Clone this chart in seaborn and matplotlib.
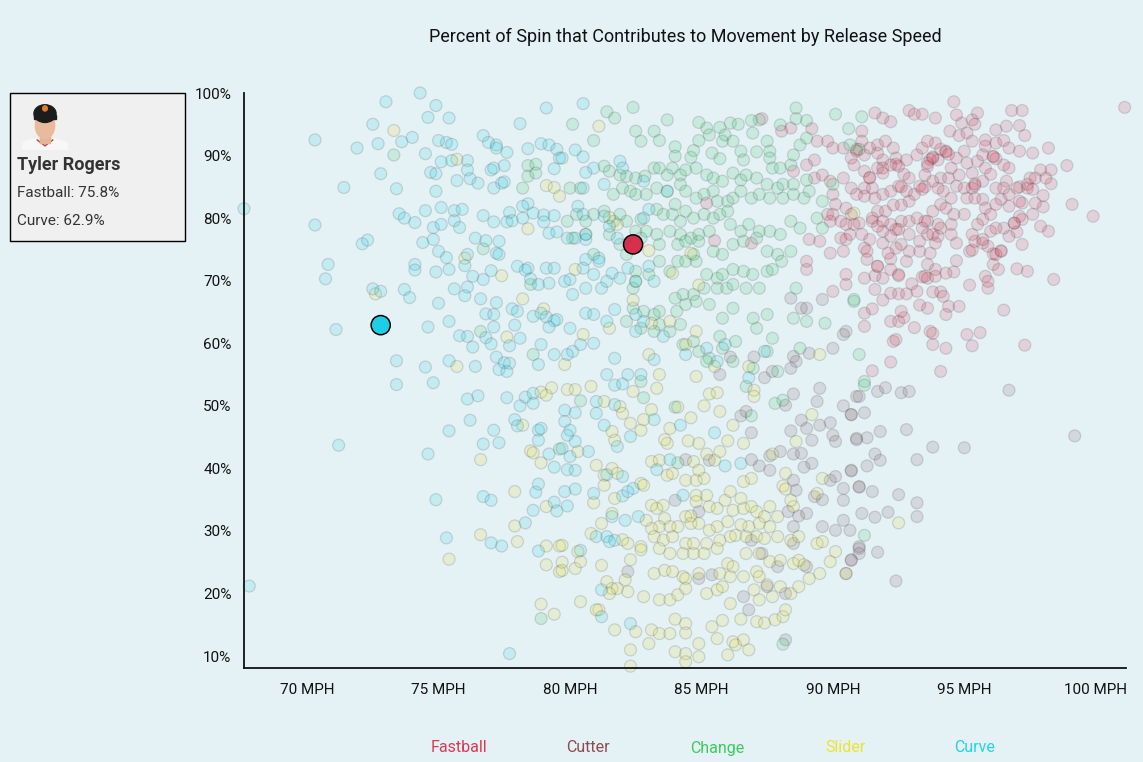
import matplotlib
matplotlib.use('Agg')
import matplotlib.pyplot as plt
from matplotlib.patches import Rectangle, Ellipse, Polygon
import seaborn as sns
import pandas as pd

BG = '#e4f1f5'
TITLE = 'Percent of Spin that Contributes to Movement by Release Speed'
pitch_types = ['Fastball', 'Cutter', 'Change', 'Slider', 'Curve']
pitch_colors = ['#d7304e', '#7a5a60', '#34c466', '#e4dc2a', '#1ccfe6']
legend_colors = ['#d93a52', '#8d4a50', '#3ccb5e', '#ece52e', '#22d3ea']

x_ticks = [70, 75, 80, 85, 90, 95, 100]
y_ticks = [10, 20, 30, 40, 50, 60, 70, 80, 90, 100]

player_name = 'Tyler Rogers'
player_pitches = ['Fastball', 'Curve']
player_mph = [82.4, 72.8]
player_pct = [75.8, 62.9]

fastball_pts = [
 (94.6,98.6),(92.9,97.2),(93.1,96.6),(93.4,96.6),(93.9,96.0),(91.6,96.8),(91.9,96.0),(92.2,95.4),(94.7,96.5),(94.9,95.2),
 (95.3,95.7),(95.5,96.8),(95.4,95.0),(96.8,97.2),(97.2,97.2),(97.1,94.8),(97.3,93.2),(101.1,97.7),(96.6,94.7),(96.2,94.1),
 (94.45,93.9),(94.8,93.2),(95.1,93.6),(95.3,92.3),(95.8,92.5),(95.8,91.5),(96.2,92.0),(96.5,92.4),(96.7,91.2),(97.1,90.7),
 (97.6,90.4),(98.2,91.2),(98.9,88.4),(99.1,82.2),(99.9,80.3),(98.4,70.2),(97.3,59.7),(96.5,65.3),(97.4,71.5),(97.0,71.9),
 (98.2,77.9),(97.9,78.7),(98.3,87.7),(97.9,87.7),(98.3,85.5),(98.0,83.6),(98.0,81.8),(97.7,82.4),(97.6,80.6),(97.2,82.4),
 (97.4,84.8),(97.1,85.0),(97.5,86.4),(98.1,86.4),(97.2,75.8),(97.0,77.8),(96.7,77.1),(96.5,78.4),(96.9,79.2),(97.2,79.8),
 (96.4,74.7),(96.1,74.3),(96.3,71.8),(96.1,72.6),(95.9,68.8),(95.8,70.7),(95.9,69.9),(95.6,61.7),(95.3,59.6),(95.1,61.4),
 (93.8,59.8),(94.3,59.2),(93.8,61.6),(93.7,61.9),(94.1,55.5),(92.2,57.0),(91.5,55.6),(95.2,69.3),(94.8,65.9),(94.4,65.9),
 (94.3,64.6),(93.6,65.6),(93.3,66.1),(92.7,64.1),(92.5,63.5),(92.2,63.5),(93.1,62.5),(92.6,65.1),(92.4,60.6),(92.3,60.3),
 (91.2,64.8),(91.5,65.5),(91.2,62.7),(91.6,68.6),(91.9,66.9),(92.2,68.0),(92.5,67.9),(92.8,67.9),(93.2,68.3),(93.8,68.2),
 (94.1,68.2),(94.2,67.5),(93.0,69.5),(94.7,73.2),(94.6,71.4),(94.3,71.2),(93.9,71.8),(93.6,72.6),(93.4,70.6),(93.6,70.4),
 (93.9,70.7),(92.8,73.1),(92.5,71.0),(92.2,71.8),(91.9,70.4),(91.6,70.8),(91.2,70.4),(91.3,73.4),(91.7,72.3),(92.2,73.5),
 (95.2,74.7),(95.3,74.9),(95.4,76.3),(95.7,76.0),(95.9,75.5),(96.2,74.2),(96.4,74.8),(94.7,76.0),(94.5,77.4),(94.0,77.1),
 (94.0,79.0),(93.9,76.0),(93.7,74.4),(93.3,74.7),(92.9,74.7),(92.6,75.8),(92.4,75.2),(92.1,74.4),(91.9,76.0),(91.4,76.6),
 (91.2,75.2),(91.3,74.7),(91.5,79.5),(91.0,79.2),(90.8,79.0),(91.1,77.4),(90.65,77.4),(90.7,80.6),
 (91.1,93.9),(91.1,92.3),(90.9,91.0),(91.2,90.1),(90.8,88.5),(91.2,87.5),(91.4,86.4),(91.7,88.0),(91.9,89.3),(91.7,90.4),
 (91.4,91.2),(91.7,91.7),(92.0,92.3),(92.3,91.2),(92.4,89.6),(92.2,88.5),(91.9,87.2),(91.5,84.8),(91.2,84.8),(90.9,83.8),
 (91.2,83.5),(91.6,83.2),(91.9,83.8),(92.2,84.3),(92.5,85.1),(92.8,84.3),(92.9,86.4),(92.7,87.0),(92.5,88.3),(92.8,89.3),
 (93.2,90.1),(93.4,91.2),(93.6,92.3),(93.9,92.0),(93.8,89.6),(93.6,88.3),(93.5,86.9),(93.3,85.1),(93.1,83.8),(92.9,82.7),
 (92.6,82.1),(92.3,82.1),(92.0,81.1),(91.7,81.1),(91.5,80.0),(91.9,79.5),(92.2,79.0),(92.6,79.5),(92.9,79.5),(93.2,80.0),
 (93.4,78.4),(93.6,79.5),(93.8,81.1),(94.1,82.2),(94.3,81.6),(94.5,83.2),(94.2,84.3),(94.0,84.8),(93.8,85.9),(94.1,86.4),
 (94.4,86.4),(94.5,88.0),(94.3,90.7),(94.1,91.0),(94.0,89.3),(94.7,89.6),(95.0,90.7),(95.1,88.8),(94.8,86.9),(94.7,85.1),
 (95.0,84.8),(95.1,83.2),(95.0,80.6),(94.6,80.6),(94.5,79.0),(94.1,78.4),(93.8,77.4),(93.6,77.4),(93.3,76.3),(92.9,77.4),
 (92.5,78.2),(92.2,77.1),(91.9,77.9),(91.7,78.7),(95.3,87.2),(95.5,89.1),(95.7,90.1),(95.8,88.0),(95.7,85.9),(95.3,84.8),
 (95.4,83.2),(95.7,83.0),(95.8,81.6),(95.7,79.8),(95.5,79.0),(95.3,77.4),(96.0,87.0),(96.1,89.9),(96.2,84.8),(96.2,82.2),
 (96.0,80.6),(96.5,88.5),(96.7,88.0),(96.6,85.9),(96.5,84.8),(96.4,83.0),(96.7,83.8),(97.0,84.8),(97.1,82.7),(97.4,85.4),
 (97.6,84.6),(97.7,86.4),(96.9,79.2),(97.1,80.3),(96.7,81.9),(96.2,78.4),(96.0,77.9),(95.7,76.6),
 (93.7,89.4),(93.6,88.8),(93.8,89.8),(93.5,85.0),(93.4,84.6),(92.6,85.0),(91.9,88.0),(91.4,86.5),(92.4,88.6),(94.3,90.6),
 (94.4,90.2),(96.1,89.8),(96.2,89.5),(95.4,85.5),(95.4,85.2),(91.7,72.3),(92.5,70.8),(93.5,70.7),(92.4,78.2),(93.5,79.5),
 (87.3,95.9),(88.05,93.9),(88.4,94.4),(89.2,94.3),(89.4,92.3),(89.8,92.3),(90.0,91.2),(90.4,91.2),(90.7,89.6),(90.9,90.7),
 (89.3,89.3),(89.0,88.5),(88.5,87.5),(89.3,86.4),(89.6,86.9),(89.9,85.9),(90.4,86.4),(90.7,84.8),(90.0,83.8),(90.1,82.2),
 (90.5,81.6),(89.8,80.6),(90.0,80.6),(89.9,79.5),(90.3,79.5),(90.5,79.0),(90.3,76.8),(90.5,76.6),(89.1,76.6),(89.5,76.3),
 (89.0,73.1),(89.0,71.8),(89.9,74.4),(90.4,74.7),(90.5,71.0),(90.5,69.4),(90.0,68.3),(85.2,82.4),(85.5,76.4),(86.9,76.0),
]

cutter_pts = [
 (88.4,67.2),(88.8,65.6),(89.0,65.6),(89.6,67.0),(90.4,61.4),(90.5,61.9),(90.0,59.2),(89.1,58.4),(88.5,57.9),(88.6,57.1),
 (88.4,56.0),(87.7,55.5),(87.4,54.5),(86.1,57.8),(87.0,57.8),(85.7,55.0),
 (87.6,39.7),(88.5,38.1),(88.6,36.5),(89.3,35.5),(89.6,30.7),(90.1,30.1),(90.4,31.7),(90.65,30.1),(91.0,27.5),(90.7,25.3),
 (90.5,23.2),(87.9,24.3),(87.5,21.1),(88.2,20.0),(89.0,24.3),(88.5,28.0),(86.8,17.4),(88.2,12.6),(86.9,28.5),(87.2,40.4),
 (86.9,41.4),(87.6,42.0),(88.0,42.7),(88.5,42.3),(88.8,42.4),(88.9,40.2),(89.2,40.8),(89.9,38.1),(90.1,38.7),(90.4,36.8),
 (90.7,39.7),(91.0,37.0),(89.6,35.0),(90.4,34.9),(84.0,34.9),(84.9,33.1),(88.3,33.1),(88.7,32.4),(89.0,32.8),(88.5,30.7),
 (87.3,26.4),(85.4,23.0),(82.2,23.5),(84.9,22.4),(86.6,19.5),(86.5,48.4),(86.7,49.1),(86.9,45.7),(88.8,47.7),(89.0,46.4),
 (88.4,46.0),(89.2,44.5),(89.5,46.9),(89.9,47.3),(90.0,45.3),(90.1,44.3),(90.9,44.8),(88.2,50.1),(88.5,51.9),(89.5,52.8),
 (89.4,50.7),(90.4,50.0),(90.7,48.6),(90.9,51.5),(84.4,41.4),(85.3,41.3),
 (91.0,51.5),(91.7,52.3),(92.0,52.9),(92.6,52.1),(92.9,52.3),(90.7,48.6),(91.2,48.9),(91.8,45.9),(92.8,46.2),(90.9,44.6),
 (91.3,44.9),(91.6,42.3),(91.8,41.3),(93.2,41.4),(93.8,43.4),(95.0,43.3),(96.7,52.5),(99.2,45.2),(90.7,39.6),(91.3,40.4),
 (91.0,37.1),(91.5,36.3),(92.5,35.8),(93.2,34.5),(91.1,32.8),(91.6,32.2),(92.1,33.0),(93.2,32.3),(91.0,27.2),(91.0,26.4),
 (91.7,26.6),(90.7,25.4),(92.4,22.0),
]

change_pts = [
 (80.1,95.0),(81.4,97.0),(81.7,96.0),(82.4,97.7),(83.7,95.7),(84.9,95.3),(85.2,94.4),(85.7,94.5),(86.1,95.2),(86.4,95.0),
 (86.9,95.6),(87.2,95.7),(88.0,94.9),(88.6,97.6),(88.6,95.9),(89.0,95.6),(90.1,96.6),(90.6,94.3),(90.65,91.7),
 (80.9,92.4),(82.5,93.9),(82.7,92.3),(83.2,93.9),(83.4,92.4),(84.0,91.4),(84.0,89.9),(84.7,90.8),(84.6,89.7),(84.9,92.4),
 (85.3,93.3),(85.4,90.4),(85.7,89.5),(85.8,92.3),(85.9,93.3),(86.2,92.3),(86.5,90.7),(86.6,89.3),(86.95,93.6),(87.1,90.6),
 (87.5,92.3),(87.6,90.7),(87.6,89.6),(87.7,88.0),(88.0,88.0),(88.4,88.5),(88.5,90.1),(88.75,91.7),(89.0,92.8),
 (81.3,88.3),(81.5,87.5),(81.9,86.9),(82.15,86.7),(82.5,86.4),(82.85,86.7),(83.2,88.0),(83.4,88.0),(83.7,86.9),(83.9,88.0),
 (84.2,86.9),(84.4,87.7),(84.8,88.0),(85.2,86.9),(85.45,86.4),(85.8,85.9),(86.2,87.2),(86.5,86.1),(86.7,86.9),(87.1,86.4),
 (87.5,85.4),(87.9,84.8),(88.1,85.4),(88.5,85.4),(89.0,86.1),
 (81.65,83.8),(82.0,84.8),(82.3,84.3),(82.5,83.8),(82.9,83.8),(83.3,84.8),(83.7,84.3),(84.0,82.2),(84.2,85.4),(84.4,84.3),
 (84.8,83.2),(85.1,83.8),(85.45,84.3),(85.6,82.7),(86.0,82.7),(86.2,83.2),(86.5,84.3),(86.9,83.2),(87.2,83.8),(87.6,83.2),
 (88.1,83.2),(88.5,83.8),(88.9,83.2),(89.1,84.3),(89.6,82.7),(90.0,85.4),
 (83.3,81.4),(83.55,80.6),(83.9,80.6),(84.2,79.5),(84.4,81.1),(84.7,80.0),(85.1,80.6),(85.45,80.0),(85.7,80.6),(86.0,81.1),
 (86.1,79.0),(86.5,77.9),(86.8,79.0),(87.2,77.9),(87.6,77.9),(88.0,77.4),(88.4,79.5),(88.75,78.4),(89.4,80.0),(89.6,78.4),
 (82.7,79.8),(82.9,77.9),(83.3,77.4),(83.8,77.9),(84.2,77.4),(84.6,76.8),(84.9,77.4),(85.3,77.9),(82.5,77.9),(82.15,79.5),
 (81.9,80.6),(81.65,79.5),(81.3,81.1),(80.9,80.6),(80.6,79.5),
 (83.4,75.8),(84.1,75.8),(84.4,76.3),(84.9,76.3),(85.45,74.7),(85.8,74.2),(86.2,75.8),(86.6,76.3),(87.1,76.8),(87.5,74.7),
 (87.9,74.2),(88.4,74.7),(84.1,73.1),(84.4,73.1),(84.8,73.1),(84.7,74.2),(85.2,71.0),(85.6,70.4),(85.8,71.0),(86.2,71.8),
 (86.6,71.5),(86.95,71.0),(87.5,71.5),(87.7,71.8),(88.05,73.1),(83.4,73.1),(83.8,71.5),(83.0,71.0),(82.15,74.2),(82.7,76.8),
 (82.5,71.5),(81.9,75.8),(81.5,77.4),
 (86.7,68.8),(87.2,68.8),(85.6,68.8),(85.96,68.8),(86.2,69.4),(85.1,68.8),(84.7,67.8),(84.3,67.8),(84.0,67.2),(84.4,66.2),
 (84.06,65.1),(84.8,66.7),(85.3,66.2),(85.8,64.0),(86.2,65.6),(86.97,64.0),(87.1,62.4),(87.5,64.6),(87.7,60.8),(88.5,64.0),
 (88.6,68.8),(89.0,63.5),(83.4,65.1),(83.2,64.6),(82.8,65.1),(83.4,63.0),(83.2,61.9),(82.4,65.6),(82.4,68.8),(82.7,62.4),
 (82.15,63.5),(82.5,69.9),(84.3,59.8),(84.7,60.3),(84.9,58.7),(85.8,59.2),(85.7,61.1),(86.3,60.3),(86.2,57.1),(85.3,57.6),
 (83.8,61.9),(84.2,63.0),(85.2,57.1),(87.5,58.7),(87.9,55.5),(86.97,56.0),(91.0,58.2),(90.8,66.7),(89.7,63.2),(88.75,59.2),
 (80.0,84.8),(80.4,84.8),(80.1,76.8),(80.6,77.4),(80.25,80.6),(79.9,79.5),(80.9,74.2),
 (91.1,96.2),(91.0,91.0),(90.8,67.0),(91.2,53.9),(91.2,53.3),(91.2,29.3),(80.4,50.8),(82.8,51.3),(84.0,49.8),(86.7,53.1),
 (87.8,50.4),(88.1,50.9),(86.9,48.4),(84.1,40.9),(82.7,53.9),(88.1,11.9),(73.3,90.1),(78.2,84.8),(78.4,88.4),(78.7,88.6),
 (78.4,86.7),(78.7,87.2),(76.7,75.1),(78.5,69.4),(76.6,61.9),(78.6,58.2),(79.6,43.1),(78.9,16.0),
]

slider_pts = [
 (73.3,94.0),(75.7,89.4),(79.1,85.2),(79.4,84.9),(79.6,83.5),(78.4,78.3),(76.0,73.6),(77.4,70.8),(72.6,67.9),(78.2,67.1),
 (79.0,65.5),(77.6,61.0),(75.7,56.3),
 (76.6,41.4),(78.2,46.9),(78.5,42.8),(78.6,42.5),(78.9,40.9),(78.9,52.2),(79.1,51.7),(79.3,52.9),(77.9,36.3),(79.1,33.9),
 (77.9,30.8),(75.4,25.5),(76.6,29.4),(78.0,28.3),(79.1,27.6),(79.6,27.6),(79.1,24.6),(79.6,23.5),(79.7,25.0),(78.9,18.3),
 (79.4,16.7),
 (81.1,94.7),(81.5,80.1),(81.8,79.0),(83.0,74.8),(84.6,74.4),(83.9,71.2),(84.9,69.3),(80.2,71.8),(82.4,66.9),(83.1,63.2),
 (83.8,63.5),(81.5,62.4),(80.5,61.4),(79.8,56.6),(83.0,58.2),(83.4,55.0),(84.8,54.7),(85.5,56.3),(86.8,56.3),(89.5,58.2),
 (84.4,59.8),(90.8,80.8),(84.8,61.9),
 (79.9,52.6),(80.2,52.6),(80.8,53.1),(83.3,52.8),(81.3,50.7),(81.9,49.9),(82.0,48.8),(82.4,52.3),(83.1,49.4),(84.1,49.8),
 (85.3,51.9),(85.6,52.1),(85.7,49.1),(85.1,50.0),(87.0,52.5),(87.0,51.5),(86.2,46.9),(86.6,44.0),(89.2,48.6),(88.6,44.3),
 (81.6,45.9),(81.7,44.5),(82.3,47.2),(82.7,46.1),(82.8,47.8),(83.8,46.4),(84.6,48.1),(84.5,44.4),(84.9,44.0),(83.7,44.0),
 (83.6,44.6),(86.0,44.4),(80.3,42.7),(81.0,40.5),(81.3,38.9),(80.9,34.5),(81.6,40.0),(81.8,39.2),(81.3,37.3),(81.7,35.2),
 (82.7,37.6),(82.8,37.3),(81.6,32.8),(83.1,41.1),(83.4,41.3),(84.7,41.1),(83.7,38.9),(83.9,39.2),(84.4,38.1),(84.8,38.1),
 (85.1,38.4),(84.9,39.7),(85.5,41.3),(85.7,42.7),(85.2,42.3),(86.6,37.9),(86.9,38.4),(87.7,42.3),(88.2,39.2),(89.6,38.4),
 (88.1,37.2),(88.2,36.7),(89.4,36.0),
 (83.1,34.1),(83.55,34.1),(83.3,33.6),(83.6,32.0),(84.8,35.7),(85.2,35.7),(84.8,34.7),(84.4,32.3),(84.6,32.4),(84.6,31.2),
 (84.1,30.7),(83.8,30.7),(83.4,30.7),(83.1,30.4),(82.9,31.7),(85.3,33.9),(85.6,33.6),(85.9,34.9),(86.1,36.3),(86.2,33.3),
 (86.5,35.2),(86.6,33.6),(86.9,33.9),(87.1,33.1),(87.4,32.3),(87.6,33.9),(87.9,32.3),(88.5,33.9),(88.4,34.9),(87.6,30.7),
 (87.2,31.2),(86.8,30.7),(86.5,31.0),(86.0,31.5),(85.6,30.7),(85.3,30.1),(84.9,31.2),
 (82.0,28.6),(81.2,31.2),(80.8,29.6),(80.3,26.7),(80.2,24.0),(80.4,25.1),(79.7,27.7),(79.7,23.7),(81.2,24.5),(82.2,28.0),
 (82.7,27.5),(82.7,27.0),(82.3,25.4),
 (83.2,29.1),(83.55,28.55),(83.9,29.1),(84.4,28.0),(84.7,28.0),(85.2,28.0),(85.7,28.5),(86.1,29.1),(86.3,29.3),(86.7,29.1),
 (87.1,29.1),(87.4,28.8),(87.9,29.1),(88.4,28.5),(88.7,29.1),(89.4,28.0),(89.6,28.3),(90.1,26.7),(83.4,27.2),(83.8,26.4),
 (84.3,26.4),(84.7,26.4),(85.1,26.4),(85.6,27.2),(86.0,24.8),(86.2,24.3),(86.7,26.4),(87.2,26.4),(87.6,25.1),(88.0,25.3),
 (88.5,24.8),(88.7,25.3),(88.9,24.6),(83.2,23.2),(83.6,23.7),(83.9,23.5),(84.3,22.7),(84.4,22.4),(84.9,23.2),(85.7,23.2),
 (86.1,22.7),(86.6,22.7),(87.1,23.5),(87.2,22.7),(87.5,21.4),(88.0,21.1),(88.4,20.0),(88.7,21.1),(89.1,22.4),(89.5,23.2),
 (89.9,25.1),(90.5,23.2),(82.1,22.2),(81.4,21.9),(81.6,20.8),(81.8,20.8),(81.5,20.0),(82.2,20.3),(82.8,19.5),(83.4,19.0),
 (83.8,19.0),(84.1,19.8),(84.4,20.8),(85.2,20.0),(85.6,20.6),(85.8,21.1),(86.1,18.4),(87.0,20.6),(87.2,19.0),(87.7,19.5),
 (81.1,17.4),(81.7,14.2),(82.5,13.9),(82.3,11.0),(83.0,12.0),(83.1,14.2),(83.4,13.6),(83.8,13.6),(84.0,15.9),(84.4,15.2),
 (84.4,13.7),(84.0,10.7),(84.4,10.4),(84.4,9.1),(84.9,12.0),(84.9,9.9),(85.4,14.7),(85.6,12.8),(85.8,15.7),(86.2,12.3),
 (86.3,11.8),(86.6,12.6),(86.8,11.0),(86.0,10.2),(86.5,15.9),(87.1,15.5),(87.4,15.3),(87.8,15.8),(88.1,16.3),(88.2,17.4),
 (82.3,8.4),(80.4,18.7),(81.0,17.4),(92.5,31.3),
]

curve_pts = [
 (74.3,100.0),(73.0,98.6),(74.9,98.0),(74.6,96.1),(75.4,96.0),(79.1,97.6),(78.1,95.1),(72.5,95.0),(70.3,92.5),(71.9,91.2),
 (72.7,91.9),(73.6,92.2),(74.0,92.9),(74.5,90.3),(75.0,92.4),(75.3,92.1),(75.5,91.8),(76.7,93.2),(76.9,92.1),(77.2,91.7),
 (77.2,91.2),(77.6,90.5),(78.4,91.1),(78.9,91.9),(79.2,91.7),(79.5,91.0),(79.6,89.6),(72.8,87.1),(71.4,84.9),(73.4,84.7),
 (74.7,87.3),(74.9,87.1),(75.1,89.0),(75.5,89.2),(76.1,89.2),(76.1,87.7),(75.7,86.0),(76.2,86.3),(76.5,85.6),(74.9,84.3),
 (77.0,87.7),(77.1,88.0),(77.5,88.4),(77.1,84.8),(77.4,85.6),(77.5,85.8),(79.4,87.9),(70.3,78.9),(67.6,81.5),(73.5,80.7),
 (73.7,80.0),(74.1,79.3),(74.5,81.2),(75.1,81.7),(75.6,81.2),(75.9,81.4),(75.6,79.6),(75.8,78.5),(74.8,78.5),(75.1,79.0),
 (76.7,80.4),(77.1,79.4),(77.7,80.9),(77.6,79.4),(77.8,79.6),(78.2,80.0),(78.4,82.3),(78.2,81.9),(78.6,80.8),(79.0,80.5),
 (79.0,79.4),(79.4,80.4),(79.2,77.6),(79.5,77.8),(72.1,75.9),(72.3,76.5),(74.4,76.1),(74.8,76.6),(75.0,74.7),(75.3,73.7),
 (76.4,76.8),(76.8,76.4),(77.2,74.4),(77.3,74.2),(77.3,76.3),(70.8,72.6),(70.7,70.3),(74.1,72.6),(74.1,71.7),(74.9,71.4),
 (75.4,71.8),(76.0,72.4),(76.1,74.2),(76.3,70.7),(76.7,70.2),(77.0,71.6),(78.0,72.3),(78.4,72.0),(78.3,71.7),(78.5,70.3),
 (78.8,69.4),(79.1,72.0),(79.4,72.0),(79.2,69.6),(72.5,68.7),(72.8,68.3),(73.7,68.6),(73.9,67.3),(75.0,66.4),(75.6,68.7),
 (76.0,67.6),(76.1,69.0),(76.6,67.1),(77.2,66.5),(76.8,64.7),(77.1,64.6),(77.1,62.6),(77.8,65.5),(78.0,65.1),(77.9,62.9),
 (78.6,64.3),(78.9,64.8),(79.1,64.2),(79.4,63.6),(79.2,62.6),(79.5,63.8),(71.1,62.2),(74.6,62.6),(75.4,63.5),(75.8,61.2),
 (76.1,61.1),(76.3,59.4),(76.8,60.9),(77.0,59.9),(77.7,59.6),(78.1,60.8),(73.4,57.2),(74.5,56.2),(75.4,57.2),(76.4,56.3),
 (77.2,57.8),(77.5,56.9),(77.7,56.8),(77.3,55.8),(77.6,55.5),(78.8,56.6),(78.9,59.8),(79.4,58.2),
 (73.4,53.4),(74.8,53.7),(71.2,43.7),(74.6,42.3),(74.9,35.0),(75.4,46.0),(76.1,51.1),(76.5,51.6),(76.2,47.7),(76.7,43.9),
 (77.1,46.1),(77.3,44.1),(76.7,35.5),(77.0,34.9),(75.3,28.9),(77.0,28.1),(77.4,27.6),(77.6,51.3),(78.1,50.0),(78.3,51.4),
 (78.6,52.0),(78.6,50.4),(77.9,47.8),(78.0,46.8),(78.8,46.1),(78.9,46.4),(78.8,44.5),(79.2,42.3),(79.4,40.2),(78.7,36.2),
 (78.8,37.5),(79.4,34.6),(79.5,33.2),(78.6,33.3),(78.3,31.3),(78.8,26.8),(77.7,10.4),(67.8,21.2),
 (80.5,98.3),(80.2,90.9),(80.5,89.8),(79.7,89.6),(80.9,88.0),(81.3,85.4),(80.6,87.3),(80.5,84.8),(80.3,81.9),(80.5,80.6),
 (80.6,77.4),(80.6,76.6),(80.2,76.8),(79.9,76.8),(81.3,80.3),(81.5,78.7),(81.9,89.1),(82.0,88.0),(82.8,85.9),(83.0,81.4),
 (83.7,84.3),(82.8,80.0),(81.8,76.8),(81.1,73.6),(81.1,73.1),(80.6,73.4),(80.5,72.0),(81.2,68.8),(81.6,71.2),(81.4,69.9),
 (81.9,70.4),(82.2,72.0),(82.5,69.9),(83.0,72.3),(83.2,69.9),(81.7,65.4),(80.6,64.8),(80.9,64.6),(81.4,63.5),(80.0,62.4),
 (80.9,60.0),(80.4,59.8),(80.1,58.7),(79.9,58.2),(81.7,57.6),(81.4,55.0),(82.2,55.0),(82.7,55.0),(83.2,57.4),(83.55,61.1),
 (84.4,58.2),(85.2,59.2),(85.6,57.1),(85.9,59.8),(86.8,54.5),(87.4,58.7),(82.5,64.6),(82.5,61.9),(82.8,63.5),(79.8,69.9),
 (80.0,70.2),(80.1,67.8),(80.6,68.8),(80.9,71.0),
 (80.2,48.9),(79.8,49.3),(81.0,50.7),(81.7,50.2),(81.7,53.3),(82.0,53.5),(79.8,47.5),(80.0,46.1),(79.9,45.3),(80.2,44.3),
 (79.7,43.2),(81.0,48.8),(81.3,46.9),(81.8,43.5),(82.3,45.1),(83.2,47.8),(84.2,46.9),(85.5,45.7),(80.0,41.9),(80.7,42.7),
 (79.9,39.8),(80.2,39.7),(81.4,39.0),(80.9,36.0),(80.2,36.7),(79.8,36.3),(79.9,34.0),(82.0,38.7),(82.0,35.6),(82.2,36.3),
 (82.4,36.8),(82.6,32.3),(82.1,31.7),(81.6,32.3),(83.3,39.8),(83.8,41.4),(85.9,40.4),(86.5,40.8),(84.3,35.7),(81.0,29.1),
 (81.4,29.1),(81.7,28.5),(81.5,28.3),(80.4,26.9),(81.2,20.6),(82.3,15.2),(81.2,16.3),
]

sns.set_theme(style='white')
plt.rcParams['font.family'] = ['Roboto', 'DejaVu Sans']

rows = []
for name, pts in zip(pitch_types, [fastball_pts, cutter_pts, change_pts, slider_pts, curve_pts]):
    for m, p in pts:
        rows.append((name, m, p))
df = pd.DataFrame(rows, columns=['pitch', 'mph', 'pct'])
player_df = pd.DataFrame({'pitch': player_pitches, 'mph': player_mph, 'pct': player_pct})
palette = dict(zip(pitch_types, pitch_colors))

fig = plt.figure(figsize=(11.43, 7.62), dpi=100, facecolor=BG)
ax = fig.add_axes([244 / 1143, 1 - 668 / 762, 882 / 1143, 575 / 762])
ax.set_facecolor(BG)

sns.scatterplot(data=df, x='mph', y='pct', hue='pitch', hue_order=pitch_types, palette=palette,
                s=74, alpha=0.16, edgecolor='#303030', linewidth=0.9, legend=False, ax=ax, clip_on=False)
sns.scatterplot(data=player_df, x='mph', y='pct', hue='pitch', hue_order=pitch_types, palette=palette,
                s=190, alpha=1.0, edgecolor='black', linewidth=1.1, legend=False, ax=ax, zorder=5, clip_on=False)

ax.set_xlim(67.6, 101.15)
ax.set_ylim(8.1, 100)
ax.set_xticks(x_ticks)
ax.set_xticklabels([f'{v} MPH' for v in x_ticks])
ax.set_yticks(y_ticks)
ax.set_yticklabels([f'{v}%' for v in y_ticks])
ax.set_xticks([67.6, 101.15], minor=True)
ax.set_yticks([8.1], minor=True)
ax.set_xlabel('')
ax.set_ylabel('')
for s in ['top', 'right']:
    ax.spines[s].set_visible(False)
for s in ['left', 'bottom']:
    ax.spines[s].set_color('#111111')
    ax.spines[s].set_linewidth(1.3)
ax.tick_params(axis='both', which='both', direction='out', length=6, width=1.2, color='#222222',
               labelsize=11, labelcolor='#111111', pad=3)
ax.tick_params(axis='x', which='major', pad=5)
ax.grid(False)

fig.text(685 / 1143, 1 - 37 / 762, TITLE, ha='center', va='center', fontsize=13, color='#111111')

legend_x = [459, 588, 717, 846, 975]
for name, col, x in zip(pitch_types, legend_colors, legend_x):
    fig.text(x / 1143, 1 - 748 / 762, name, ha='center', va='center', fontsize=11.5, color=col)

fig.add_artist(Rectangle((10 / 1143, 1 - 241 / 762), 175 / 1143, 148 / 762, transform=fig.transFigure,
                         facecolor='#f0f0f0', edgecolor='black', linewidth=1, zorder=-1))
fig.text(17 / 1143, 1 - 165 / 762, player_name, ha='left', va='center', fontsize=13, fontweight='bold', color='#333333')
fig.text(17 / 1143, 1 - 193 / 762, f'{player_pitches[0]}: {player_pct[0]}%', ha='left', va='center', fontsize=11, color='#333333')
fig.text(17 / 1143, 1 - 221 / 762, f'{player_pitches[1]}: {player_pct[1]}%', ha='left', va='center', fontsize=11, color='#333333')

# simple headshot icon
hax = fig.add_axes([22 / 1143, 1 - 150 / 762, 46 / 1143, 52 / 762], zorder=3)
hax.set_xlim(0, 1)
hax.set_ylim(0, 1)
hax.axis('off')
hax.add_patch(Ellipse((0.5, 0.02), 1.1, 0.42, color='#f7f7f7'))
hax.add_patch(Polygon([[0.32, 0.2], [0.5, 0.08], [0.68, 0.2]], closed=False, fill=False, edgecolor='#b83a3a', linewidth=1))
hax.add_patch(Rectangle((0.4, 0.14), 0.2, 0.18, color='#e3b596'))
hax.add_patch(Ellipse((0.5, 0.47), 0.42, 0.5, color='#e9bb9c'))
hax.add_patch(Ellipse((0.5, 0.7), 0.48, 0.34, color='#1c1c1c'))
hax.add_patch(Rectangle((0.26, 0.6), 0.48, 0.08, color='#1c1c1c'))
hax.add_patch(Ellipse((0.5, 0.8), 0.1, 0.1, color='#e8792b'))

fig.savefig('out.png', dpi=100, facecolor=BG)
